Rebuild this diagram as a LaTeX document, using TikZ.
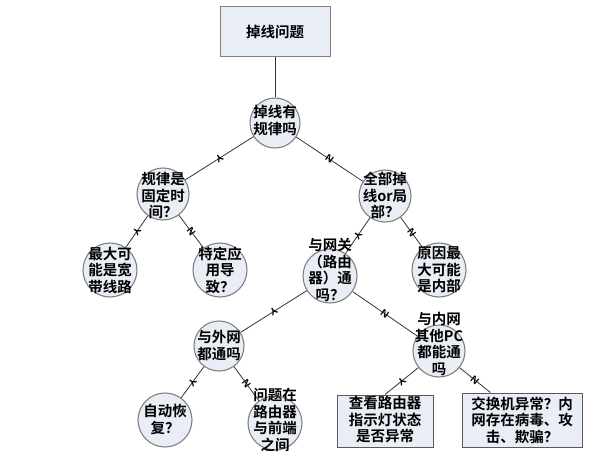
\documentclass[tikz,border=0pt]{standalone}
\usepackage{fontspec}
\newfontfamily\cjk{Noto Sans CJK SC}[BoldFont={Noto Sans CJK SC Bold}]
\definecolor{cfill}{HTML}{E8EDF6}
\definecolor{cline}{HTML}{808080}
\begin{document}
\begin{tikzpicture}[x=1pt,y=-1pt,
  every node/.style={font=\cjk\bfseries\fontsize{14.5}{16.5}\selectfont},
  circ/.style={circle, draw=cline, line width=1.1pt, fill=cfill, minimum size=#1, inner sep=0pt},
  circ/.default=52pt,
  txt/.style={align=center, inner sep=0pt},
  rbox/.style={draw=black!65, fill=cfill, line width=1pt, inner sep=0pt, align=center},
  conn/.style={draw=black!80, line width=0.8pt},
  lab/.style={sloped, allow upside down, inner sep=0pt, text=black, font=\sffamily\bfseries\fontsize{10}{10}\selectfont}]
\useasboundingbox (0,0) rectangle (591,457);
\fill[white] (0,0) rectangle (591,457);

% top box
\node[rbox, draw=cline, minimum width=110pt, minimum height=50pt] (top) at (275,32) {掉线问题};

% circles
\node[circ=50pt] (c1) at (275,123) {};
\node[circ] (c2) at (163,194) {};
\node[circ] (c3) at (385,196) {};
\node[circ=54pt] (c4) at (110,270) {};
\node[circ=54pt] (c5) at (220,270) {};
\node[circ=54pt] (c6) at (330,276) {};
\node[circ=54pt] (c7) at (439,270) {};
\node[circ=50pt] (c8) at (219,346) {};
\node[circ] (c9) at (439,351) {};
\node[circ=54pt] (c10) at (165,420) {};
\node[circ=54pt] (c11) at (275,423) {};

% boxes
\node[rbox, minimum width=96pt, minimum height=52pt] (b1) at (385,421) {};
\node[rbox, minimum width=120pt, minimum height=54pt] (b2) at (522,420) {};

% connectors
\draw[conn] (top) -- (c1);
\draw[conn] (c1) -- node[lab]{Y} (c2);
\draw[conn] (c1) -- node[lab]{N} (c3);
\draw[conn] (c2) -- node[lab]{Y} (c4);
\draw[conn] (c2) -- node[lab]{N} (c5);
\draw[conn] (c3) -- node[lab]{Y} (c6);
\draw[conn] (c3) -- node[lab]{N} (c7);
\draw[conn] (c6) -- node[lab]{Y} (c8);
\draw[conn] (c6) -- node[lab]{N} (c9);
\draw[conn] (c8) -- node[lab]{Y} (c10);
\draw[conn] (c8) -- node[lab]{N} (c11);
\draw[conn] (c9) -- node[lab]{Y} (b1.north);
\draw[conn] (c9) -- node[lab]{N} (b2.139);

% texts
\node[txt] (t1) at (275,120.5) {掉线有\\规律吗};
\node[txt] (t2) at (163,195.5) {规律是\\固定时\\间？};
\node[txt] (t3) at (385,195.5) {全部掉\\线or局\\部？};
\node[txt] (t4) at (110,270) {最大可\\能是宽\\带线路};
\node[txt] (t5) at (220,270) {特定应\\用导\\致？};
\node[txt] (t6) at (330,270) {与网关\\（路由\\器）通\\吗？};
\node[txt] (t7) at (439,270) {原因最\\大可能\\是内部};
\node[txt] (t8) at (219,345.5) {与外网\\都通吗};
\node[txt] (t9) at (439,344) {与内网\\其他PC\\都能通\\吗};
\node[txt] (t10) at (165,419.5) {自动恢\\复？};
\node[txt] (t11) at (275,420) {问题在\\路由器\\与前端\\之间};
\node[txt] (t12) at (385,420) {查看路由器\\指示灯状态\\是否异常};
\node[txt] (t13) at (522,420) {交换机异常？内\\网存在病毒、攻\\击、欺骗？};
\end{tikzpicture}
\end{document}
